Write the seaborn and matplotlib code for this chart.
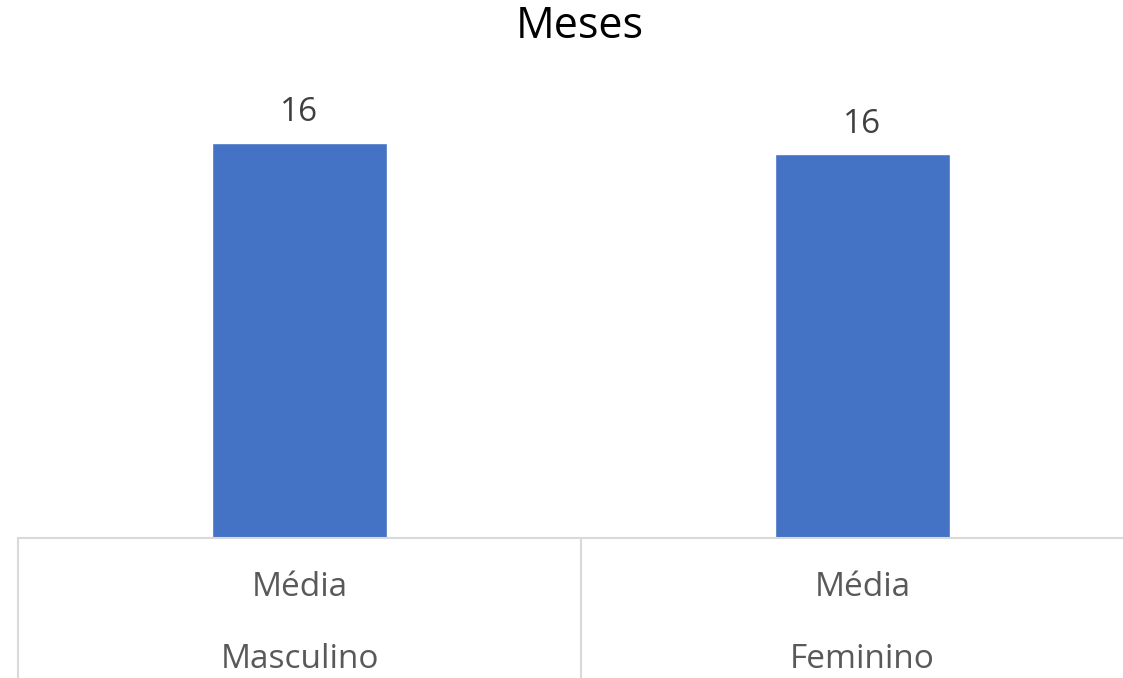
import numpy as np
import pandas as pd
import matplotlib
matplotlib.use('Agg')
import matplotlib.pyplot as plt
import matplotlib.transforms as mtransforms
import seaborn as sns

# data
categorias = ['Masculino', 'Feminino']
grupo = ['Média', 'Média']
meses = [16.4, 15.94]
titulo = 'Meses'

sns.set_style('white')
plt.rcParams['font.family'] = ['Open Sans', 'DejaVu Sans']

df = pd.DataFrame({'sexo': categorias, 'meses': meses})

W, H = 1123, 678
fig = plt.figure(figsize=(W / 100, H / 100), dpi=100)
# plot area in pixels: left 18, baseline 538, top 100, right edge of image
ax = fig.add_axes([18 / W, (H - 538) / H, (W - 18) / W, (538 - 100) / H])

sns.barplot(data=df, x='sexo', y='meses', color='#4472C4', width=0.3125,
            saturation=1, ax=ax)

ax.set_ylim(0, 18.2)
ax.set_xlim(-0.5, 1.5 - (1144 - 1123) / 563)
ax.set_xlabel('')
ax.set_ylabel('')
ax.set_yticks([])
ax.set_xticks([])
for s in ['top', 'right', 'left']:
    ax.spines[s].set_visible(False)
ax.spines['bottom'].set_color('#D9D9D9')
ax.spines['bottom'].set_linewidth(1.5)

ax.bar_label(ax.containers[0], fmt='%.0f', padding=10, fontsize=24, color='#404040')

# multi-level category axis
trans = mtransforms.blended_transform_factory(ax.transData, ax.transAxes)
px = 1 / (538 - 100)
for i, (g, c) in enumerate(zip(grupo, categorias)):
    ax.text(i, -(588 - 538) * px, g, transform=trans, ha='center', va='center',
            fontsize=24, color='#595959')
    ax.text(i, -(659 - 538) * px, c, transform=trans, ha='center', va='center',
            fontsize=24, color='#595959')
for xv in [-0.5, 0.5]:
    ax.plot([xv, xv], [0, -(H - 538) * px], transform=trans, color='#D9D9D9',
            lw=1.5, clip_on=False)

fig.text(580 / W, 1 - 27 / H, titulo, ha='center', va='center', fontsize=31,
         color='#000000')

fig.savefig('out.png', dpi=100)
